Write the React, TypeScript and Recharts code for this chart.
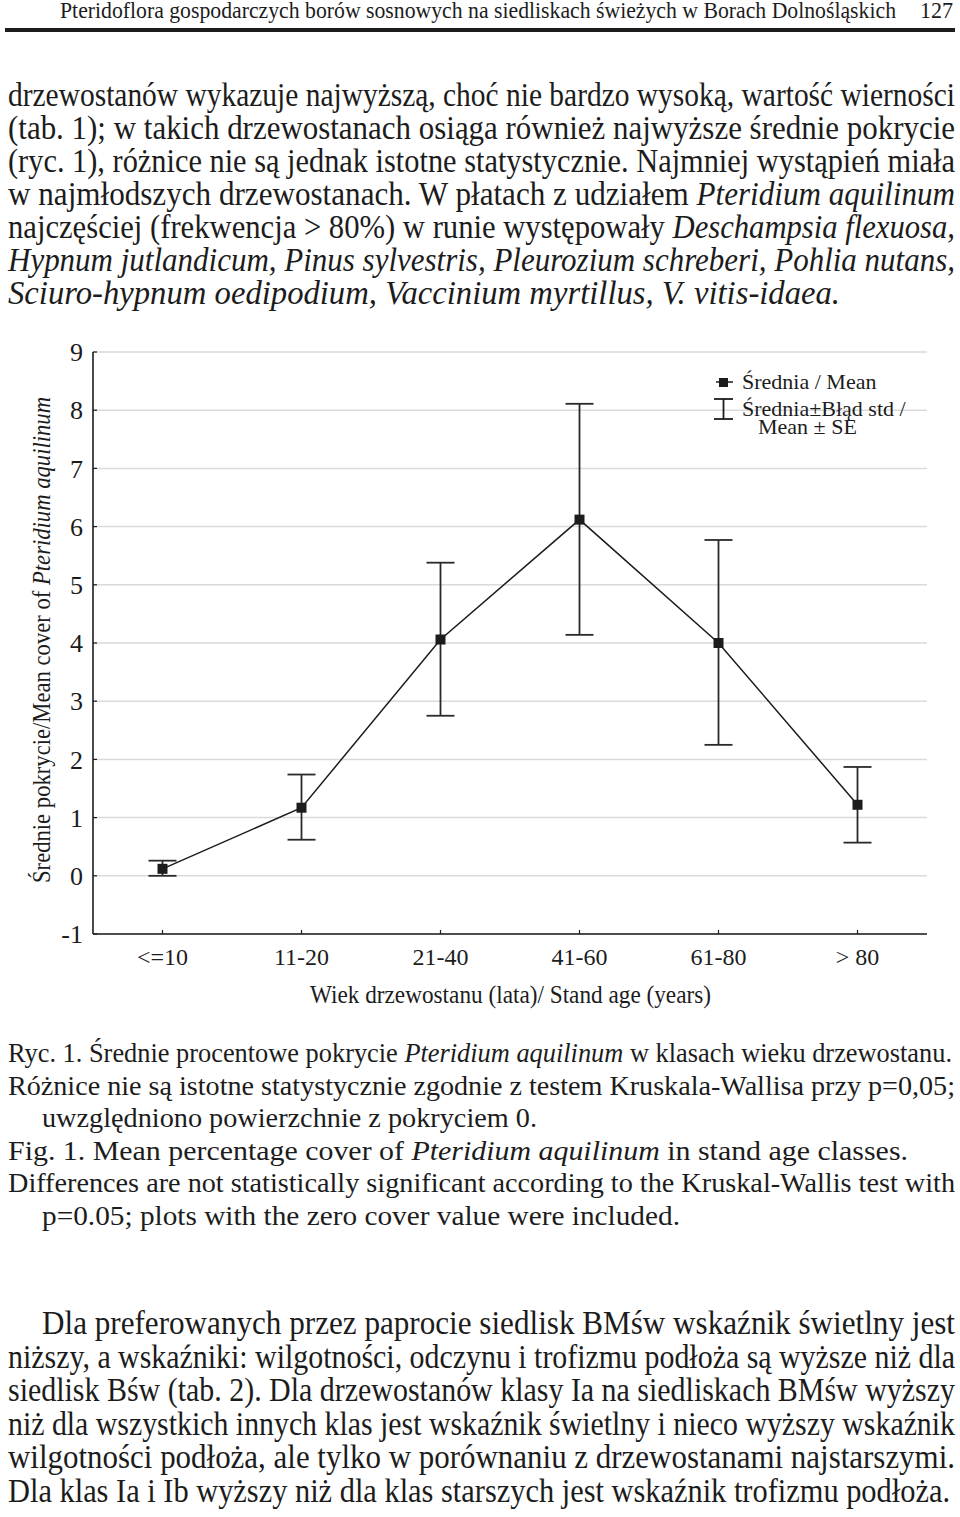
import React from 'react'
import { ComposedChart, Line, XAxis, YAxis, CartesianGrid, ErrorBar, Legend } from 'recharts'

// Ryc. 1 – średnie pokrycie Pteridium aquilinum w klasach wieku drzewostanu

const klasyWieku = ['<=10', '11-20', '21-40', '41-60', '61-80', '> 80']
const srednie = [0.12, 1.17, 4.06, 6.12, 4.0, 1.22]
const dolne = [0.0, 0.62, 2.75, 4.14, 2.25, 0.57]
const gorne = [0.26, 1.74, 5.38, 8.11, 5.77, 1.87]
const yTicks = [-1, 0, 1, 2, 3, 4, 5, 6, 7, 8, 9]

const dane = klasyWieku.map((klasa, i) => ({
  klasa,
  srednia: srednie[i],
  blad: [srednie[i] - dolne[i], gorne[i] - srednie[i]],
}))

const CZARNY = '#1c1c1c'
const SIATKA = '#dadada'
const SERIF = '"Liberation Serif", "Times New Roman", serif'

type Czesc = [string, boolean?]
type Wiersz = { x: number; y: number; len: number; size: number; parts: Czesc[] }

const naglowek: Wiersz[] = [
  { x: 60, y: 18, len: 836, size: 24, parts: [['Pteridoflora gospodarczych borów sosnowych na siedliskach świeżych w Borach Dolnośląskich']] },
  { x: 920, y: 18, len: 33, size: 24, parts: [['127']] },
]

const tekst1: Wiersz[] = [
  { x: 8, y: 106, len: 947, size: 33, parts: [['drzewostanów wykazuje najwyższą, choć nie bardzo wysoką, wartość wierności']] },
  { x: 8, y: 139, len: 947, size: 33, parts: [['(tab. 1); w takich drzewostanach osiąga również najwyższe średnie pokrycie']] },
  { x: 8, y: 172, len: 947, size: 33, parts: [['(ryc. 1), różnice nie są jednak istotne statystycznie. Najmniej wystąpień miała']] },
  { x: 8, y: 205, len: 947, size: 33, parts: [['w najmłodszych drzewostanach. W płatach z udziałem '], ['Pteridium aquilinum', true]] },
  { x: 8, y: 238, len: 947, size: 33, parts: [['najczęściej (frekwencja > 80%) w runie występowały '], ['Deschampsia flexuosa,', true]] },
  { x: 8, y: 271, len: 947, size: 33, parts: [['Hypnum jutlandicum, Pinus sylvestris, Pleurozium schreberi, Pohlia nutans,', true]] },
  { x: 8, y: 304, len: 832, size: 33, parts: [['Sciuro-hypnum oedipodium, Vaccinium myrtillus, V. vitis-idaea.', true]] },
]

const podpis: Wiersz[] = [
  { x: 8, y: 1062, len: 944, size: 28, parts: [['Ryc. 1. Średnie procentowe pokrycie '], ['Pteridium aquilinum', true], [' w klasach wieku drzewostanu.']] },
  { x: 8, y: 1095, len: 947, size: 28, parts: [['Różnice nie są istotne statystycznie zgodnie z testem Kruskala-Wallisa przy p=0,05;']] },
  { x: 42, y: 1127, len: 495, size: 28, parts: [['uwzględniono powierzchnie z pokryciem 0.']] },
  { x: 8, y: 1160, len: 900, size: 28, parts: [['Fig. 1. Mean percentage cover of '], ['Pteridium aquilinum', true], [' in stand age classes.']] },
  { x: 8, y: 1192, len: 947, size: 28, parts: [['Differences are not statistically significant according to the Kruskal-Wallis test with']] },
  { x: 42, y: 1225, len: 638, size: 28, parts: [['p=0.05; plots with the zero cover value were included.']] },
]

const tekst2: Wiersz[] = [
  { x: 42, y: 1334, len: 913, size: 33, parts: [['Dla preferowanych przez paprocie siedlisk BMśw wskaźnik świetlny jest']] },
  { x: 8, y: 1368, len: 947, size: 33, parts: [['niższy, a wskaźniki: wilgotności, odczynu i trofizmu podłoża są wyższe niż dla']] },
  { x: 8, y: 1401, len: 947, size: 33, parts: [['siedlisk Bśw (tab. 2). Dla drzewostanów klasy Ia na siedliskach BMśw wyższy']] },
  { x: 8, y: 1435, len: 947, size: 33, parts: [['niż dla wszystkich innych klas jest wskaźnik świetlny i nieco wyższy wskaźnik']] },
  { x: 8, y: 1468, len: 947, size: 33, parts: [['wilgotności podłoża, ale tylko w porównaniu z drzewostanami najstarszymi.']] },
  { x: 8, y: 1502, len: 942, size: 33, parts: [['Dla klas Ia i Ib wyższy niż dla klas starszych jest wskaźnik trofizmu podłoża.']] },
]

function Linia({ w }: { w: Wiersz }) {
  return (
    <text x={w.x} y={w.y} fontSize={w.size} fill={CZARNY} textLength={w.len} lengthAdjust="spacingAndGlyphs">
      {w.parts.map(([t, it], i) => (
        <tspan key={i} fontStyle={it ? 'italic' : 'normal'}>
          {t}
        </tspan>
      ))}
    </text>
  )
}

function Kwadrat(props: any) {
  const { cx, cy } = props
  if (cx == null || cy == null) return null
  return <rect x={cx - 5} y={cy - 5} width={10} height={10} fill={CZARNY} />
}

function TickX(props: any) {
  const { x, y, payload } = props
  return (
    <text x={x} y={y} textAnchor="middle" fontFamily={SERIF} fontSize={24} fill={CZARNY}>
      {payload.value}
    </text>
  )
}

function TytulY() {
  return (
    <text
      transform="translate(50, 310) rotate(-90)"
      x={-243}
      y={0}
      fontFamily={SERIF}
      fontSize={26}
      fill={CZARNY}
      textLength={486}
      lengthAdjust="spacingAndGlyphs"
    >
      Średnie pokrycie/Mean cover of <tspan fontStyle="italic">Pteridium aquilinum</tspan>
    </text>
  )
}

function TytulX() {
  return (
    <text x={310} y={673} fontFamily={SERIF} fontSize={26} fill={CZARNY} textLength={401} lengthAdjust="spacingAndGlyphs">
      Wiek drzewostanu (lata)/ Stand age (years)
    </text>
  )
}

function Legenda() {
  return (
    <svg width={230} height={90} style={{ overflow: 'visible', display: 'block' }}>
      <line x1={16} y1={32} x2={33} y2={32} stroke={CZARNY} strokeWidth={1.5} />
      <rect x={19} y={28} width={9} height={9} fill={CZARNY} />
      <text x={42} y={39} fontFamily={SERIF} fontSize={22} fill={CZARNY}>
        Średnia / Mean
      </text>
      <line x1={14} y1={49} x2={33} y2={49} stroke={CZARNY} strokeWidth={1.8} />
      <line x1={23.5} y1={49} x2={23.5} y2={69} stroke={CZARNY} strokeWidth={1.8} />
      <line x1={14} y1={69} x2={33} y2={69} stroke={CZARNY} strokeWidth={1.8} />
      <text x={42} y={66} fontFamily={SERIF} fontSize={22} fill={CZARNY}>
        Średnia±Błąd std /
      </text>
      <text x={58} y={84} fontFamily={SERIF} fontSize={22} fill={CZARNY}>
        Mean ± SE
      </text>
    </svg>
  )
}

export default function App() {
  return (
    <div
      style={{
        position: 'absolute',
        left: 0,
        top: 0,
        width: 960,
        height: 1517,
        background: '#fff',
        overflow: 'hidden',
        fontFamily: SERIF,
      }}
    >
      <svg width={960} height={1517} style={{ position: 'absolute', left: 0, top: 0 }} fontFamily={SERIF}>
        {naglowek.map((w, i) => (
          <Linia key={'n' + i} w={w} />
        ))}
        <rect x={5} y={28} width={950} height={4} fill={CZARNY} />
        {tekst1.map((w, i) => (
          <Linia key={'a' + i} w={w} />
        ))}
        {podpis.map((w, i) => (
          <Linia key={'p' + i} w={w} />
        ))}
        {tekst2.map((w, i) => (
          <Linia key={'b' + i} w={w} />
        ))}
      </svg>

      <div style={{ position: 'absolute', left: 0, top: 330 }}>
        <ComposedChart width={960} height={700} data={dane} margin={{ top: 22, right: 33, left: 0, bottom: 0 }}>
          <CartesianGrid vertical={false} stroke={SIATKA} strokeWidth={1.5} />
          <XAxis
            dataKey="klasa"
            scale="band"
            height={96}
            axisLine={{ stroke: CZARNY, strokeWidth: 1.6 }}
            tickLine={{ stroke: CZARNY, strokeWidth: 1.2 }}
            tickSize={-4}
            tickMargin={35}
            tick={<TickX />}
            interval={0}
            label={<TytulX />}
          />
          <XAxis
            xAxisId="top"
            dataKey="klasa"
            scale="band"
            orientation="top"
            height={0}
            axisLine={{ stroke: CZARNY, strokeWidth: 1.6 }}
            tickLine={{ stroke: CZARNY, strokeWidth: 1.2 }}
            tickSize={-4}
            tick={false}
            interval={0}
          />
          <YAxis
            width={93}
            domain={[-1, 9]}
            ticks={yTicks}
            type="number"
            allowDataOverflow
            axisLine={{ stroke: CZARNY, strokeWidth: 1.6 }}
            tickLine={{ stroke: CZARNY, strokeWidth: 1.2 }}
            tickSize={-4}
            tickMargin={14}
            tick={{ fill: CZARNY, fontSize: 26, fontFamily: SERIF }}
            label={<TytulY />}
          />
          <YAxis
            yAxisId="right"
            orientation="right"
            width={0}
            domain={[-1, 9]}
            ticks={yTicks}
            type="number"
            axisLine={{ stroke: CZARNY, strokeWidth: 1.6 }}
            tickLine={{ stroke: CZARNY, strokeWidth: 1.2 }}
            tickSize={-4}
            tick={false}
          />
          <Legend
            layout="horizontal"
            verticalAlign="middle"
            align="center"
            content={() => <Legenda />}
            wrapperStyle={{ left: 700, top: 20, width: 230, height: 90 }}
          />
          <Line
            dataKey="srednia"
            stroke={CZARNY}
            strokeWidth={1.5}
            isAnimationActive={false}
            dot={<Kwadrat />}
            activeDot={false}
            legendType="none"
          >
            <ErrorBar dataKey="blad" direction="y" width={14} stroke="#2a2a2a" strokeWidth={1.8} isAnimationActive={false} />
          </Line>
        </ComposedChart>
      </div>
    </div>
  )
}
